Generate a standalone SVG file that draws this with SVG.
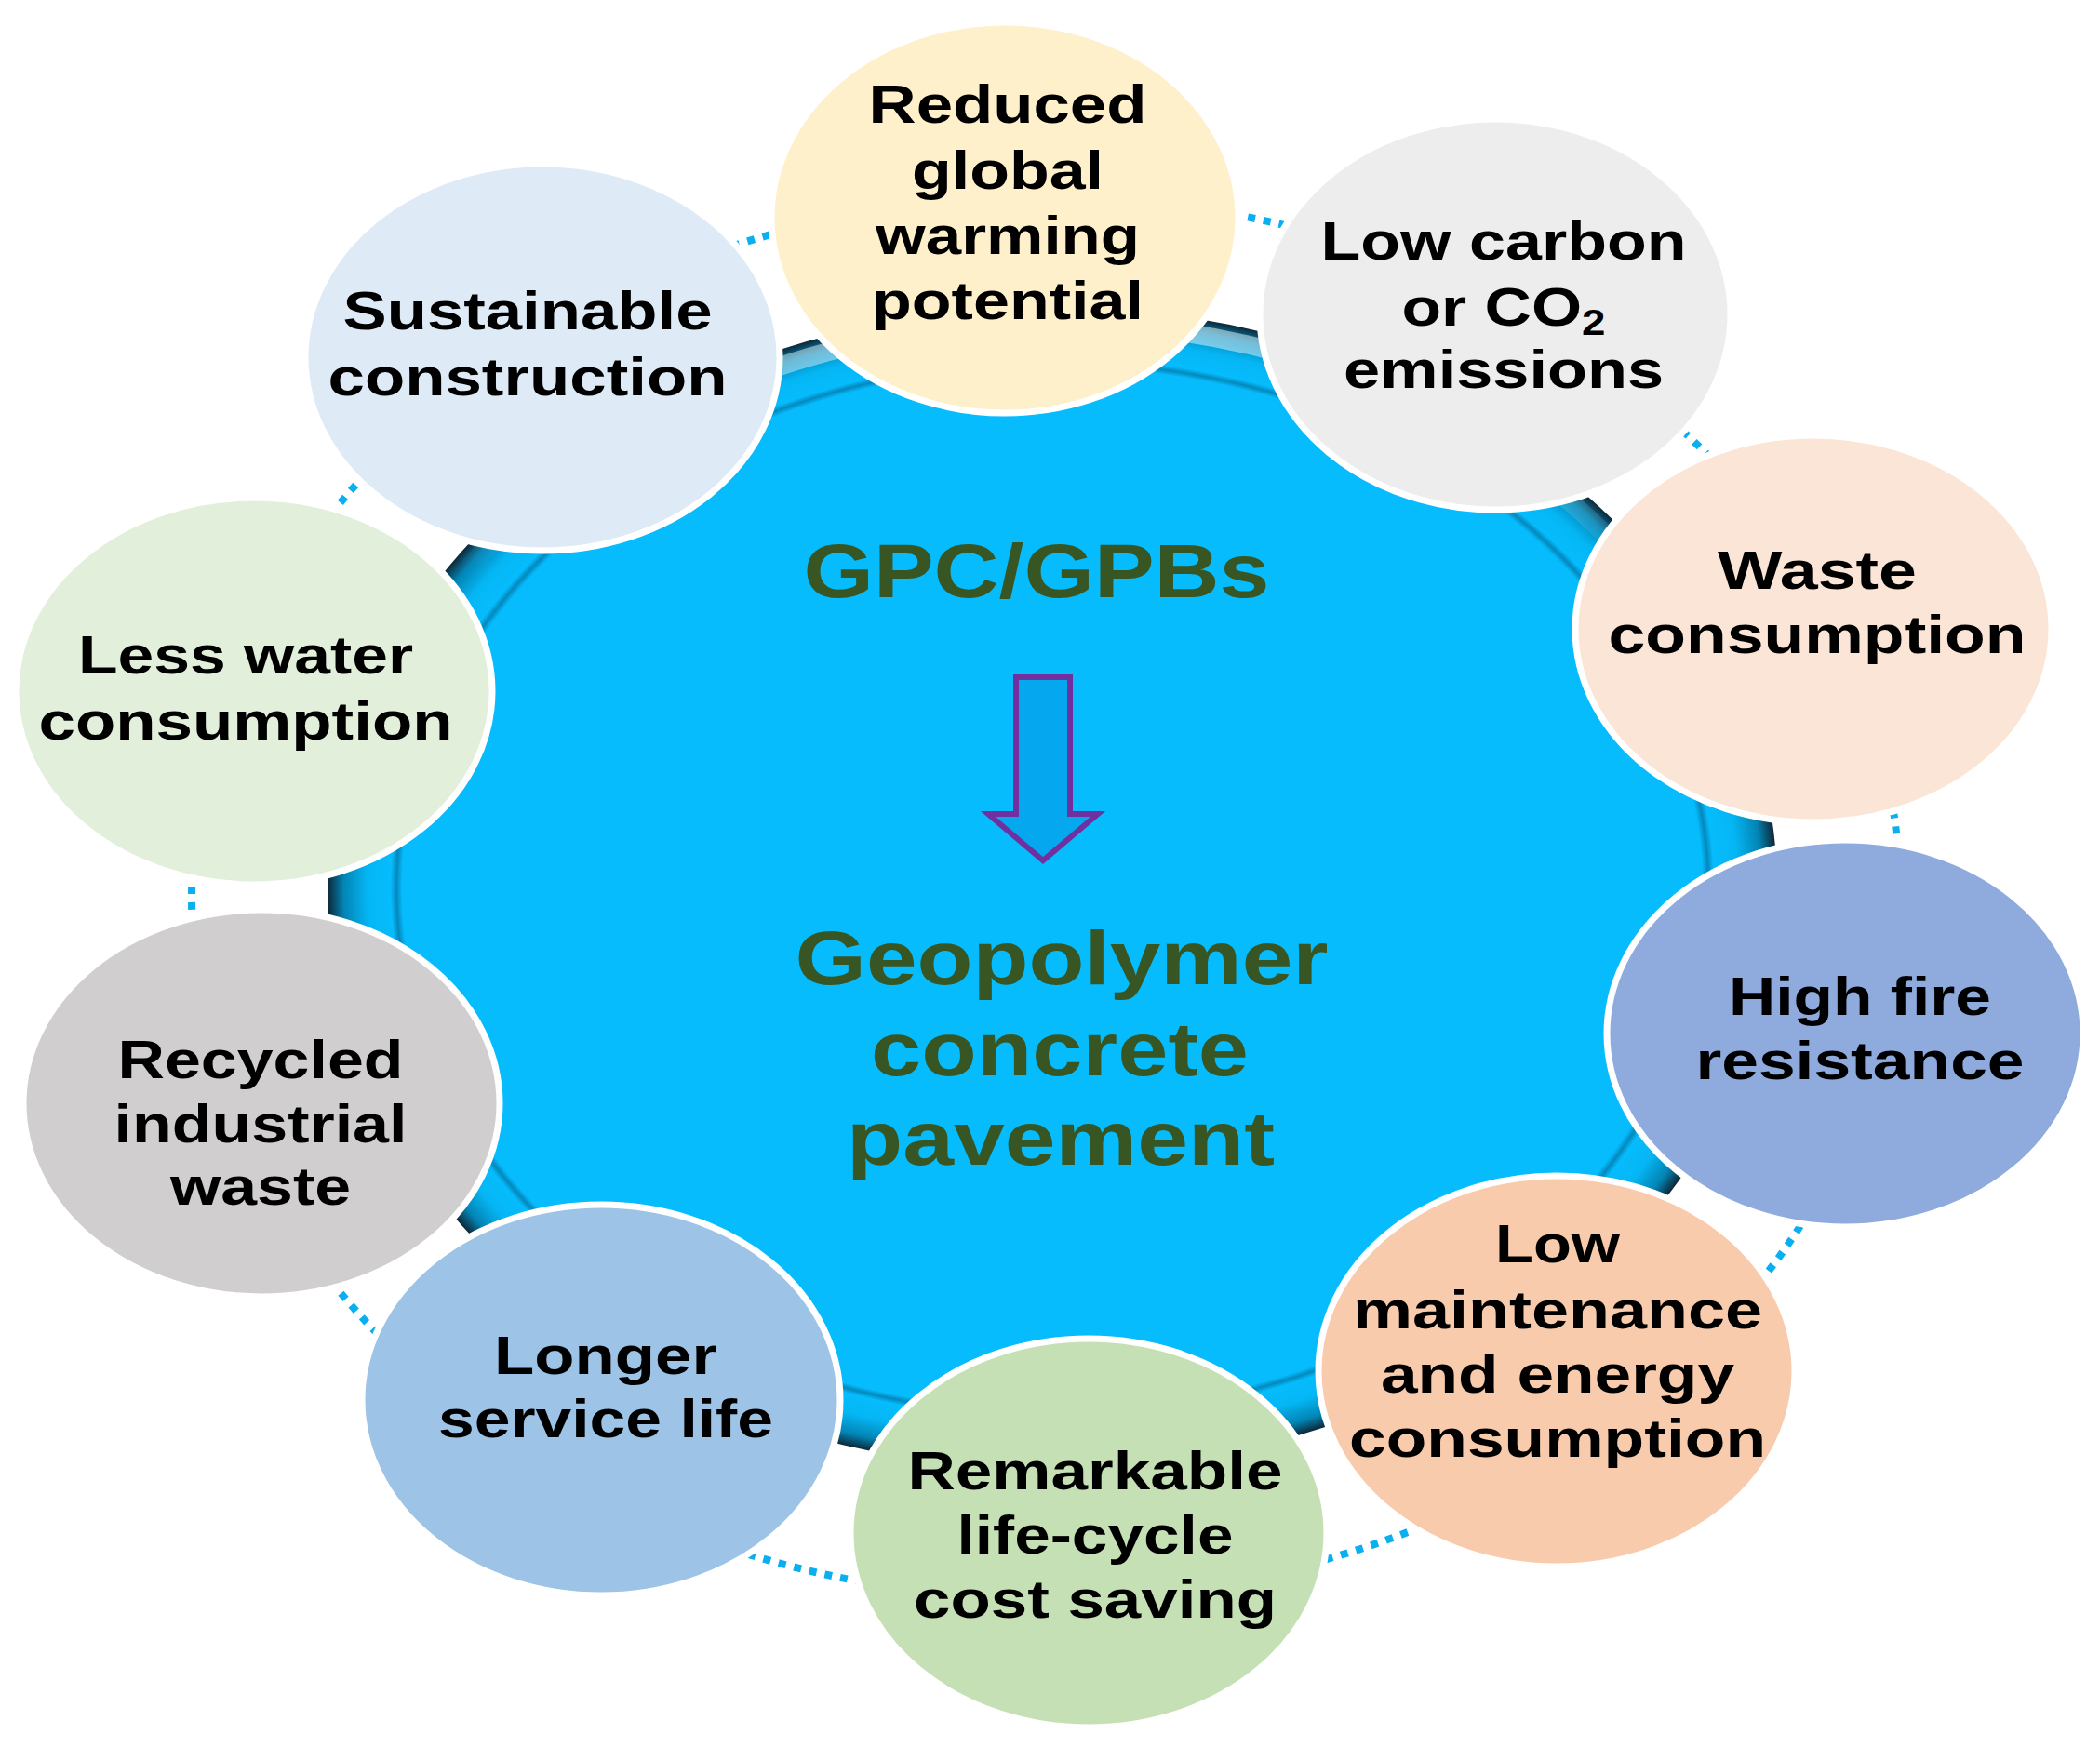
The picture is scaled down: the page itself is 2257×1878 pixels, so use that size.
<svg xmlns="http://www.w3.org/2000/svg" width="2257" height="1878" viewBox="0 0 2257 1878">
<defs>
<radialGradient id="hub" cx="0.5" cy="0.5" r="0.5">
<stop offset="0" stop-color="#06BCFD"/>
<stop offset="0.897" stop-color="#06BCFD"/>
<stop offset="0.905" stop-color="#0388BC"/>
<stop offset="0.913" stop-color="#06BCFD"/>
<stop offset="0.945" stop-color="#05B6F4"/>
<stop offset="0.978" stop-color="#0284B4"/>
<stop offset="1" stop-color="#0E2636"/>
</radialGradient>
<linearGradient id="hl" x1="0" y1="0" x2="0" y2="1">
<stop offset="0" stop-color="#ffffff" stop-opacity="0.5"/>
<stop offset="0.22" stop-color="#ffffff" stop-opacity="0"/>
</linearGradient>
</defs>
<style>
.node ellipse{stroke:#ffffff;stroke-width:7}
.t{font-family:"Liberation Sans",Arial,sans-serif;font-weight:bold;font-size:58px;fill:#000000;text-anchor:middle}
.c{font-family:"Liberation Sans",Arial,sans-serif;font-weight:bold;font-size:82px;fill:#375623;text-anchor:middle}
.ring{fill:none;stroke:#0AAFF0;stroke-width:8;stroke-dasharray:8 9}
</style>
<rect width="2257" height="1878" fill="#ffffff"/>
<g id="connectors">
<ellipse class="ring" cx="1124" cy="965" rx="918" ry="753"/>
</g>
<g id="hub">
<ellipse cx="1131" cy="955" rx="779" ry="625" fill="url(#hub)"/>
<ellipse cx="1131" cy="955" rx="762" ry="608" fill="none" stroke="url(#hl)" stroke-width="20"/>
<text class="c" x="1114" y="642" textLength="501" lengthAdjust="spacingAndGlyphs">GPC/GPBs</text>
<polygon points="1092,728 1150,728 1150,875 1180,875 1121,925 1062,875 1092,875" fill="#05A8EE" stroke="#7030A0" stroke-width="6" stroke-linejoin="miter"/>
<text class="c" x="1141" y="1058" textLength="573" lengthAdjust="spacingAndGlyphs">Geopolymer</text>
<text class="c" x="1139" y="1156" textLength="406" lengthAdjust="spacingAndGlyphs">concrete</text>
<text class="c" x="1140" y="1252" textLength="460" lengthAdjust="spacingAndGlyphs">pavement</text>
</g>
<g id="n1" class="node">
<ellipse cx="1080" cy="234" rx="251" ry="210" fill="#FFF0CC"/>
<text class="t" x="1083" y="132" textLength="299" lengthAdjust="spacingAndGlyphs">Reduced</text>
<text class="t" x="1083" y="203" textLength="206" lengthAdjust="spacingAndGlyphs">global</text>
<text class="t" x="1083" y="273" textLength="284" lengthAdjust="spacingAndGlyphs">warming</text>
<text class="t" x="1083" y="343" textLength="292" lengthAdjust="spacingAndGlyphs">potential</text>
</g>
<g id="n2" class="node">
<ellipse cx="1607" cy="338" rx="253" ry="210" fill="#EDEDED"/>
<text class="t" x="1616" y="279" textLength="393" lengthAdjust="spacingAndGlyphs">Low carbon</text>
<text class="t" x="1616" y="350" textLength="219" lengthAdjust="spacingAndGlyphs">or CO<tspan font-size="38" dy="10">2</tspan></text>
<text class="t" x="1616" y="417" textLength="344" lengthAdjust="spacingAndGlyphs">emissions</text>
</g>
<g id="n3" class="node">
<ellipse cx="1949" cy="676" rx="256" ry="208" fill="#FBE5D6"/>
<text class="t" x="1953" y="633" textLength="214" lengthAdjust="spacingAndGlyphs">Waste</text>
<text class="t" x="1953" y="702" textLength="449" lengthAdjust="spacingAndGlyphs">consumption</text>
</g>
<g id="n4" class="node">
<ellipse cx="1983" cy="1111" rx="256" ry="208" fill="#8FAADC"/>
<text class="t" x="1999" y="1091" textLength="282" lengthAdjust="spacingAndGlyphs">High fire</text>
<text class="t" x="1999" y="1160" textLength="353" lengthAdjust="spacingAndGlyphs">resistance</text>
</g>
<g id="n5" class="node">
<ellipse cx="1673" cy="1474" rx="256" ry="210" fill="#F8CBAD"/>
<text class="t" x="1674" y="1357" textLength="134" lengthAdjust="spacingAndGlyphs">Low</text>
<text class="t" x="1674" y="1428" textLength="440" lengthAdjust="spacingAndGlyphs">maintenance</text>
<text class="t" x="1674" y="1497" textLength="380" lengthAdjust="spacingAndGlyphs">and energy</text>
<text class="t" x="1674" y="1566" textLength="448" lengthAdjust="spacingAndGlyphs">consumption</text>
</g>
<g id="n6" class="node">
<ellipse cx="1170" cy="1648" rx="256" ry="209" fill="#C5E0B4"/>
<text class="t" x="1177" y="1601" textLength="403" lengthAdjust="spacingAndGlyphs">Remarkable</text>
<text class="t" x="1177" y="1670" textLength="297" lengthAdjust="spacingAndGlyphs">life-cycle</text>
<text class="t" x="1177" y="1739" textLength="390" lengthAdjust="spacingAndGlyphs">cost saving</text>
</g>
<g id="n7" class="node">
<ellipse cx="646" cy="1505" rx="257" ry="210" fill="#9DC3E6"/>
<text class="t" x="651" y="1477" textLength="240" lengthAdjust="spacingAndGlyphs">Longer</text>
<text class="t" x="651" y="1545" textLength="360" lengthAdjust="spacingAndGlyphs">service life</text>
</g>
<g id="n8" class="node">
<ellipse cx="281" cy="1186" rx="256" ry="208" fill="#D0CECE"/>
<text class="t" x="280" y="1159" textLength="307" lengthAdjust="spacingAndGlyphs">Recycled</text>
<text class="t" x="280" y="1228" textLength="315" lengthAdjust="spacingAndGlyphs">industrial</text>
<text class="t" x="280" y="1295" textLength="194" lengthAdjust="spacingAndGlyphs">waste</text>
</g>
<g id="n9" class="node">
<ellipse cx="273" cy="743" rx="256" ry="208" fill="#E2EFDA"/>
<text class="t" x="264" y="724" textLength="360" lengthAdjust="spacingAndGlyphs">Less water</text>
<text class="t" x="264" y="795" textLength="445" lengthAdjust="spacingAndGlyphs">consumption</text>
</g>
<g id="n10" class="node">
<ellipse cx="583" cy="384" rx="255" ry="208" fill="#DEEBF7"/>
<text class="t" x="567" y="354" textLength="397" lengthAdjust="spacingAndGlyphs">Sustainable</text>
<text class="t" x="567" y="425" textLength="429" lengthAdjust="spacingAndGlyphs">construction</text>
</g>
</svg>
